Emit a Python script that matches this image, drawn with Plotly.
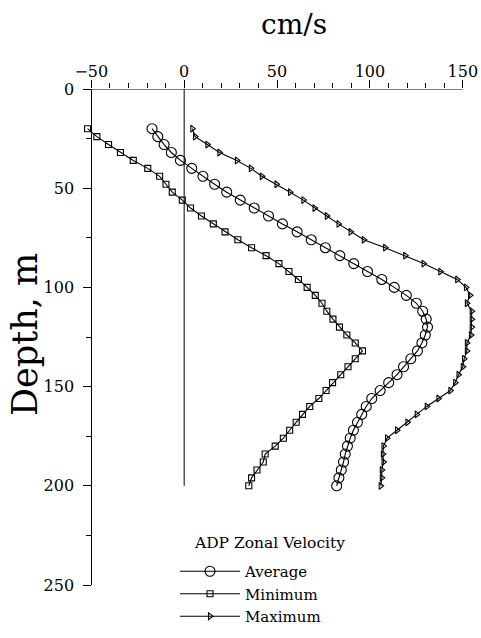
import plotly.graph_objects as go

# Depth levels (m)
depth = [20, 24, 28, 32, 36, 40, 44, 48, 52, 56, 60, 64, 68, 72, 76, 80,
         84, 88, 92, 96, 100, 104, 108, 112, 116, 120, 124, 128, 132, 136,
         140, 144, 148, 152, 156, 160, 164, 168, 172, 176, 180, 184, 188,
         192, 196, 200]

# Zonal velocity (cm/s)
average = [-17.3, -14.2, -10.8, -6.9, -2.0, 4.1, 10.1, 16.4, 22.9, 30.2,
           37.7, 45.4, 52.9, 60.8, 68.4, 76.0, 83.8, 91.3, 98.7, 106.4,
           113.1, 119.6, 125.0, 128.4, 130.3, 131.0, 129.8, 128.0, 125.6,
           122.0, 118.1, 114.6, 110.1, 105.5, 101.0, 98.0, 95.6, 93.3,
           91.1, 89.4, 87.9, 86.7, 85.8, 84.6, 83.3, 82.1]

minimum = [-52.0, -47.0, -40.7, -34.3, -27.4, -19.6, -13.2, -9.8, -6.4,
           -1.0, 3.4, 9.3, 15.7, 22.0, 28.9, 36.3, 44.1, 51.0, 56.4, 61.5,
           66.2, 70.6, 74.2, 76.8, 80.1, 83.6, 87.6, 92.1, 96.0, 92.1,
           88.2, 84.3, 79.9, 76.4, 72.5, 67.6, 63.7, 60.3, 56.8, 53.4,
           49.0, 43.6, 42.6, 39.2, 36.3, 34.8]

maximum = [4.4, 5.9, 12.5, 19.0, 28.4, 35.9, 41.8, 49.7, 57.0, 64.2, 70.2,
           76.8, 83.1, 89.6, 96.7, 108.2, 119.0, 128.9, 137.9, 147.0, 151.7,
           153.9, 152.2, 154.8, 154.8, 154.8, 154.4, 152.2, 152.2, 150.7,
           150.0, 147.7, 145.9, 143.3, 136.9, 130.6, 125.2, 120.2, 114.6,
           109.2, 107.3, 107.0, 107.3, 106.4, 106.4, 105.8]

x_ticks = [-50, 0, 50, 100, 150]
y_ticks = [0, 50, 100, 150, 200, 250]
x_minor_step = 10
y_minor_step = 25

FONT = "DejaVu Serif"
L, R, T, B = 82, 4, 89, 53
W, H = 481, 638
PW = W - L - R
PH = H - T - B
PX_PER_UNIT = 1.8575
xr = [-55, -55 + PW / PX_PER_UNIT]
yr = [y_ticks[-1], y_ticks[0]]
ypos = (x_ticks[0] - xr[0]) / (xr[1] - xr[0])


def px2paper_x(px):
    return (px - L) / PW


def px2paper_y(py):
    return (H - B - py) / PH


fig = go.Figure()

fig.add_trace(go.Scatter(
    x=average, y=depth, mode="lines+markers", name="Average",
    line=dict(color="black", width=1.1),
    marker=dict(symbol="circle-open", size=10, color="black",
                line=dict(width=1.1, color="black")),
))
fig.add_trace(go.Scatter(
    x=minimum, y=depth, mode="lines+markers", name="Minimum",
    line=dict(color="black", width=1.1),
    marker=dict(symbol="square-open", size=6, color="black",
                line=dict(width=1.1, color="black")),
))
fig.add_trace(go.Scatter(
    x=maximum, y=depth, mode="lines+markers", name="Maximum",
    line=dict(color="black", width=1.1),
    marker=dict(symbol="triangle-right-open", size=6, color="black",
                line=dict(width=1.1, color="black")),
))

# zero line and top axis line
fig.add_shape(type="line", xref="x", yref="y", x0=0, x1=0, y0=0, y1=200,
              line=dict(color="black", width=1))
fig.add_shape(type="line", xref="x", yref="y", x0=x_ticks[0], x1=x_ticks[-1],
              y0=0, y1=0, line=dict(color="black", width=1))

fig.update_layout(
    width=W, height=H,
    margin=dict(l=L, r=R, t=T, b=B, pad=0),
    paper_bgcolor="white", plot_bgcolor="white",
    font=dict(family=FONT, color="black", size=16),
    showlegend=True,
    legend=dict(
        x=px2paper_x(175), y=px2paper_y(555), xanchor="left", yanchor="top",
        font=dict(family=FONT, size=15, color="black"),
        bgcolor="rgba(0,0,0,0)", itemwidth=60, tracegroupgap=0,
    ),
    xaxis=dict(
        side="top", range=xr, showgrid=False, zeroline=False, showline=False,
        tickmode="linear", tick0=x_ticks[0], dtick=x_ticks[1] - x_ticks[0],
        ticks="outside", ticklen=8, tickwidth=1, tickcolor="black",
        ticklabelstandoff=-3,
        tickfont=dict(family=FONT, size=16, color="black"),
        minor=dict(tickmode="linear", tick0=0, dtick=x_minor_step,
                   ticks="outside", ticklen=5, tickwidth=1, tickcolor="black"),
    ),
    yaxis=dict(
        range=yr, showgrid=False, zeroline=False,
        anchor="free", position=ypos,
        showline=True, linecolor="black", linewidth=1,
        tickmode="linear", tick0=y_ticks[0], dtick=y_ticks[1] - y_ticks[0],
        ticks="outside", ticklen=8, tickwidth=1, tickcolor="black",
        ticklabelstandoff=6,
        tickfont=dict(family=FONT, size=16, color="black"),
        minor=dict(tickmode="linear", tick0=0, dtick=y_minor_step,
                   ticks="outside", ticklen=5, tickwidth=1, tickcolor="black"),
    ),
    annotations=[
        dict(text="cm/s", xref="paper", yref="paper",
             x=px2paper_x(294), y=px2paper_y(25),
             xanchor="center", yanchor="middle", showarrow=False,
             font=dict(family=FONT, size=28, color="black")),
        dict(text="Depth, m", xref="paper", yref="paper", textangle=-90,
             x=px2paper_x(25), y=px2paper_y(335),
             xanchor="center", yanchor="middle", showarrow=False,
             font=dict(family=FONT, size=35, color="black")),
        dict(text="ADP Zonal Velocity", xref="paper", yref="paper",
             x=px2paper_x(192), y=px2paper_y(543),
             xanchor="left", yanchor="middle", showarrow=False,
             font=dict(family=FONT, size=15.5, color="black")),
    ],
)

fig.write_html("out.html")
